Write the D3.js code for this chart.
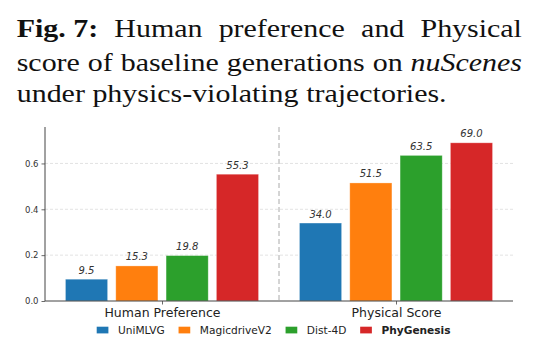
<!DOCTYPE html>
<html>
<head>
<meta charset="utf-8">
<script src="https://cdn.jsdelivr.net/npm/d3@7"></script>
<style>
  body { margin: 0; background: #fff; }
  svg { display: block; }
</style>
</head>
<body>
<div id="chart"></div>
<script>
// data
var groups = ["Human Preference", "Physical Score"];
var models = ["UniMLVG", "MagicdriveV2", "Dist-4D", "PhyGenesis"];
var humanPref = [0.095, 0.153, 0.198, 0.553];
var physScore = [0.340, 0.515, 0.635, 0.690];
var yTicks = [0.0, 0.2, 0.4, 0.6];
var colors = ["#1f77b4", "#ff7f0e", "#2ca02c", "#d62728"];

var W = 539, H = 361;
var svg = d3.select("#chart").append("svg")
    .attr("width", W)
    .attr("height", H);

// caption (justified lines)
var capLines = [
  {words: [["Fig. 7:", "bold"], ["Human"], ["preference"], ["and"], ["Physical"]], justify: true, y: 37},
  {words: [["score"], ["of"], ["baseline"], ["generations"], ["on"], ["nuScenes", "italic"]], justify: true, y: 71},
  {words: [["under"], ["physics-violating"], ["trajectories."]], justify: false, y: 102}
];
var capLeft = 16.7, capRight = 522, capSize = 25.5, line3Width = 430;

var cap = svg.append("g");
var lineGroups = capLines.map(function(line) {
  var g = cap.append("g");
  var widths = line.words.map(function(w) {
    var t = g.append("text")
        .attr("y", line.y)
        .attr("font-family", "'Liberation Serif', 'Times New Roman', serif")
        .attr("font-size", capSize)
        .attr("fill", "#111")
        .text(w[0]);
    if (w[1] === "bold") t.attr("font-weight", "bold");
    if (w[1] === "italic") t.attr("font-style", "italic");
    return t.node().getComputedTextLength();
  });
  return {g: g, widths: widths, line: line};
});
// slight horizontal stretch so the last line spans the same width as in the figure
var space = capSize * 0.25;
var l3 = lineGroups[2];
var natural3 = d3.sum(l3.widths) + space * (l3.widths.length - 1);
var k = line3Width / natural3;
lineGroups.forEach(function(lg) {
  var total = d3.sum(lg.widths);
  var avail = (capRight - capLeft) / k;
  var gap = lg.line.justify ? (avail - total) / (lg.widths.length - 1) : space;
  var x = 0;
  lg.g.selectAll("text").each(function(d, i) {
    d3.select(this).attr("x", x);
    x += lg.widths[i] + gap;
  });
  lg.g.attr("transform", "translate(" + capLeft + ",0) scale(" + k + ",1)");
});

// chart
var x = d3.scaleLinear().domain([-0.5, 1.5]).range([45, 513]);
var y = d3.scaleLinear().domain([0, 0.759]).range([301, 127]);
var step = 0.215, barW = 0.18;

// grid
svg.append("g").selectAll("line")
  .data(yTicks.slice(1))
  .enter().append("line")
    .attr("x1", x(-0.5)).attr("x2", x(1.5))
    .attr("y1", function(d) { return y(d); })
    .attr("y2", function(d) { return y(d); })
    .attr("stroke", "#dcdcdc")
    .attr("stroke-width", 0.8)
    .attr("stroke-dasharray", "3,2");

// separator
svg.append("line")
    .attr("x1", x(0.5)).attr("x2", x(0.5))
    .attr("y1", y(0.759)).attr("y2", y(0))
    .attr("stroke", "#aaaaaa")
    .attr("stroke-width", 1)
    .attr("stroke-dasharray", "5,3");

// bars
var series = [humanPref, physScore];
series.forEach(function(vals, gi) {
  var g = svg.append("g");
  g.selectAll("rect")
    .data(vals)
    .enter().append("rect")
      .attr("x", function(d, i) { return x(gi + (i - 1.5) * step - barW / 2); })
      .attr("width", x(barW) - x(0))
      .attr("y", function(d) { return y(d); })
      .attr("height", function(d) { return y(0) - y(d); })
      .attr("fill", function(d, i) { return colors[i]; })
      .attr("stroke", "#ffffff")
      .attr("stroke-opacity", 0.35)
      .attr("stroke-width", 0.8);
  g.selectAll("text")
    .data(vals)
    .enter().append("text")
      .attr("x", function(d, i) { return x(gi + (i - 1.5) * step); })
      .attr("y", function(d) { return y(d) - 5.5; })
      .attr("text-anchor", "middle")
      .attr("font-family", "'DejaVu Sans', sans-serif")
      .attr("font-size", 10)
      .attr("font-style", "italic")
      .attr("fill", "#333")
      .text(function(d) { return (d * 100).toFixed(1); });
});

// axes
var yAxis = svg.append("g")
    .attr("transform", "translate(45,0)")
    .call(d3.axisLeft(y).tickValues(yTicks).tickFormat(d3.format(".1f")).tickSize(3.5).tickPadding(3));
yAxis.select(".domain").remove();
yAxis.append("line")
    .attr("y1", y(0.759)).attr("y2", y(0))
    .attr("stroke", "#444").attr("stroke-width", 1);

var xAxis = svg.append("g")
    .attr("transform", "translate(0,301)")
    .call(d3.axisBottom(x).tickValues([0, 1]).tickFormat(function(d) { return groups[d]; }).tickSize(3.5).tickPadding(4));
xAxis.select(".domain").remove();
xAxis.append("line")
    .attr("x1", x(-0.5)).attr("x2", x(1.5))
    .attr("stroke", "#444").attr("stroke-width", 1);

svg.selectAll(".tick line").attr("stroke", "#444").attr("stroke-width", 0.8);
yAxis.selectAll("text")
    .attr("font-family", "'DejaVu Sans', sans-serif")
    .attr("font-size", 8.5)
    .attr("fill", "#333");
xAxis.selectAll("text")
    .attr("font-family", "'DejaVu Sans', sans-serif")
    .attr("font-size", 12.5)
    .attr("fill", "#222");

// legend
var legend = svg.append("g");
var lx = 96.7;
models.forEach(function(m, i) {
  legend.append("rect")
      .attr("x", lx).attr("y", 326.7)
      .attr("width", 11.7).attr("height", 6.7)
      .attr("fill", colors[i]);
  var t = legend.append("text")
      .attr("x", lx + 21.3).attr("y", 333.5)
      .attr("font-family", "'DejaVu Sans', sans-serif")
      .attr("font-size", 10.6)
      .attr("fill", "#222")
      .attr("font-weight", i === 3 ? "bold" : "normal")
      .text(m);
  lx += 21.3 + t.node().getComputedTextLength() + 13.8;
});
</script>
</body>
</html>
